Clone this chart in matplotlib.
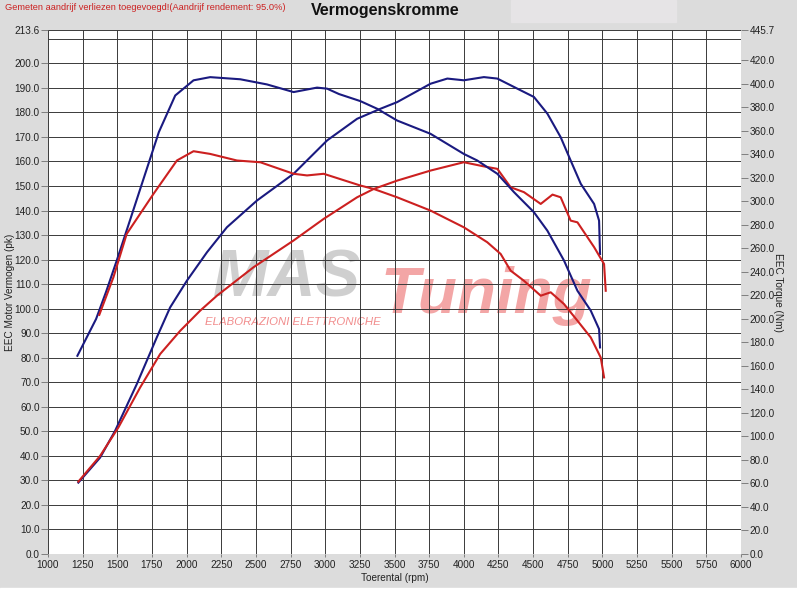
import numpy as np
import matplotlib
matplotlib.use("Agg")
import matplotlib.pyplot as plt
from matplotlib.patches import Rectangle

plt.rcParams['font.family'] = ['Liberation Sans', 'DejaVu Sans']

# blue run - power (pk, left axis)
rpm_pw_blue = [1219, 1376, 1484, 1641, 1785, 1881, 2002, 2147, 2291, 2508, 2772, 3014, 3230,
               3399, 3519, 3760, 3881, 4000, 4145, 4242, 4386, 4506, 4603, 4699, 4771, 4844,
               4940, 4976, 4983]
pw_blue = [29.1, 39.3, 50.2, 69.3, 88.3, 100.5, 111.4, 123.0, 133.2, 144.1, 155.0, 168.6, 177.4,
           181.5, 184.2, 191.7, 193.8, 193.1, 194.4, 193.8, 189.7, 186.3, 179.5, 169.9, 160.4, 150.9,
           142.7, 135.9, 122.3]

# red run - power (pk, left axis)
rpm_pw_red = [1219, 1376, 1508, 1665, 1809, 1954, 2098, 2219, 2483, 2772, 2989, 3230, 3350,
              3519, 3760, 4000, 4145, 4242, 4338, 4434, 4555, 4640, 4699, 4771, 4820, 4940,
              5012, 5024]
pw_red = [29.5, 40.0, 51.6, 67.9, 81.5, 91.0, 99.2, 105.3, 116.9, 127.8, 136.6, 145.4, 148.8,
          152.2, 156.3, 159.7, 158.0, 157.0, 149.5, 147.5, 142.7, 146.5, 145.4, 135.9, 135.2, 125.1,
          118.2, 107.3]

# blue run - torque (Nm, right axis)
rpm_tq_blue = [1212, 1347, 1420, 1496, 1600, 1689, 1800, 1918, 2050, 2170, 2387, 2580, 2772,
               2941, 3014, 3100, 3254, 3375, 3519, 3760, 4000, 4097, 4242, 4362, 4506, 4603,
               4723, 4820, 4916, 4976, 4983]
tq_blue = [168.6, 199.9, 223.3, 249.6, 286.9, 319.0, 358.9, 390.0, 402.9, 405.6, 403.8, 399.4, 392.9,
           396.7, 395.8, 391.2, 385.2, 378.7, 368.7, 357.4, 340.3, 334.7, 323.4, 307.8, 290.7, 275.0,
           249.6, 223.9, 207.0, 191.3, 175.7]

# red run - torque (Nm, right axis)
rpm_tq_red = [1370, 1472, 1568, 1665, 1761, 1930, 2050, 2170, 2363, 2532, 2772, 2869, 2989,
              3254, 3350, 3519, 3760, 4000, 4169, 4266, 4338, 4434, 4555, 4627, 4723, 4820,
              4916, 4988, 5012]
tq_red = [203.4, 235.4, 272.3, 289.4, 306.3, 334.7, 342.6, 340.3, 334.7, 333.2, 323.4, 322.0, 323.4,
          313.4, 310.5, 303.4, 292.1, 277.9, 265.2, 255.2, 241.0, 232.4, 219.7, 222.6, 212.6, 198.4,
          184.2, 167.1, 150.2]

pk_max = 213.6
nm_max = 445.7
x_ticks = np.arange(1000, 6001, 250)
pk_ticks = list(np.arange(0, 201, 10)) + [pk_max]
nm_ticks = list(np.arange(0, 421, 20)) + [nm_max]

blue = "#1a1a80"
red = "#cc2020"
grey_bg = "#dcdcdc"
txt = "#222222"

fig = plt.figure(figsize=(7.97, 5.95), dpi=100, facecolor=grey_bg)
fig.patches.append(Rectangle((511 / 797, 1 - 22 / 595), 165 / 797, 22 / 595,
                             transform=fig.transFigure, color="#e6e4e6", zorder=0))
fig.patches.append(Rectangle((0, 0), 1, 7 / 595, transform=fig.transFigure,
                             color="white", zorder=0))

ax = fig.add_axes([48 / 797, 1 - 554 / 595, 693 / 797, 524 / 595])
ax.set_facecolor("white")
ax.set_xlim(1000, 6000)
ax.set_ylim(0, pk_max)
ax.set_xticks(x_ticks)
ax.set_yticks(pk_ticks)
ax.set_yticks([210], minor=True)
ax.set_yticklabels([f"{v:.1f}" for v in pk_ticks])
for s in ax.spines.values():
    s.set_visible(False)
ax.grid(True, which="both", color="#3a3a3a", linewidth=0.7)
ax.tick_params(axis="y", which="major", length=5, width=0.6, color="#707070", pad=1,
               labelsize=7.2, labelcolor=txt)
ax.tick_params(axis="y", which="minor", length=0)
ax.tick_params(axis="x", length=2, width=0.6, color="#707070", pad=2,
               labelsize=7.2, labelcolor=txt)
ax.set_xlabel("Toerental (rpm)", fontsize=7.2, color=txt)
ax.xaxis.set_label_coords(0.5, -0.037)
ax.set_ylabel("EEC Motor Vermogen (pk)", fontsize=7.2, color=txt)
ax.yaxis.set_label_coords(-0.047, 0.5)

# watermark
ax.text(2190, 112, "MAS", fontsize=48, fontweight="bold", fontstyle="italic",
        color="#c4c4c4", alpha=0.8, ha="left", va="center", zorder=1)
ax.text(3400, 105, "Tuning", fontsize=46, fontweight="bold", fontstyle="italic",
        color="#f09090", alpha=0.8, ha="left", va="center", zorder=1)
ax.text(2134, 94.5, "ELABORAZIONI ELETTRONICHE", fontsize=8.2, fontstyle="italic",
        color="#f08080", alpha=0.9, ha="left", va="center", zorder=1)

ax.plot(rpm_pw_blue, pw_blue, color=blue, linewidth=1.5, zorder=3)
ax.plot(rpm_pw_red, pw_red, color=red, linewidth=1.5, zorder=3)

ax2 = ax.twinx()
ax2.set_ylim(0, nm_max)
ax2.set_yticks(nm_ticks)
ax2.set_yticklabels([f"{v:.1f}" for v in nm_ticks])
for s in ax2.spines.values():
    s.set_visible(False)
ax2.tick_params(axis="y", length=5, width=0.6, color="#707070", pad=1,
                labelsize=7.2, labelcolor=txt)
ax2.set_ylabel("EEC Torque (Nm)", fontsize=7.2, rotation=270, color=txt, va="center")
ax2.yaxis.set_label_coords(1.053, 0.5)
ax2.plot(rpm_tq_blue, tq_blue, color=blue, linewidth=1.5, zorder=3)
ax2.plot(rpm_tq_red, tq_red, color=red, linewidth=1.5, zorder=3)

fig.text(5 / 797, 1 - 8 / 595, "Gemeten aandrijf verliezen toegevoegd!(Aandrijf rendement: 95.0%)",
         fontsize=6.7, color="#cc2222", ha="left", va="center")
fig.text(385 / 797, 1 - 11 / 595, "Vermogenskromme", fontsize=11.5, fontweight="bold",
         color="#111111", ha="center", va="center")

fig.savefig("out.png", dpi=100, facecolor=fig.get_facecolor())
